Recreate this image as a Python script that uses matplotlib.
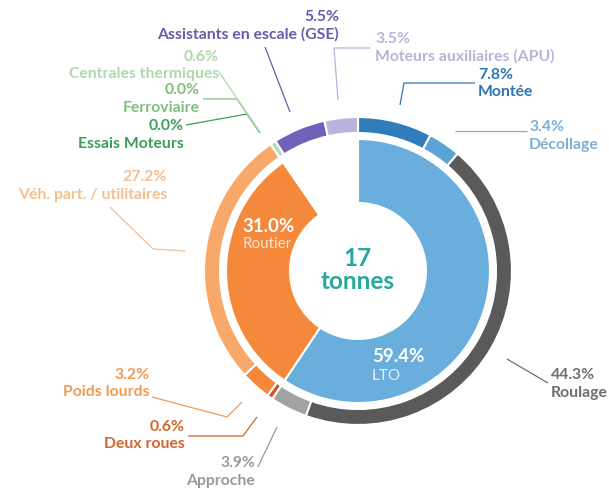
import matplotlib
matplotlib.use("Agg")
import matplotlib.pyplot as plt

plt.rcParams['font.family'] = ['Lato', 'DejaVu Sans']

W, H = 609, 490

# Anneau intérieur : grandes familles
inner_labels = ['LTO', 'Routier', 'Autres']
inner_values = [59.4, 31.0, 9.6]
inner_colors = ['#69aedd', '#f5893b', 'white']

# Anneau extérieur : sous-catégories (sens horaire depuis midi)
outer_labels = ['Montée', 'Décollage', 'Roulage', 'Approche',
                'Deux roues', 'Poids lourds', 'Véh. part. / utilitaires',
                'Essais Moteurs', 'Ferroviaire', 'Centrales thermiques',
                'Assistants en escale (GSE)', 'Moteurs auxiliaires (APU)']
outer_values = [7.8, 3.4, 44.3, 3.9, 0.6, 3.2, 27.2, 0.0, 0.0, 0.6, 5.5, 3.5]
outer_colors = ['#2f7dbd', '#5aa3d5', '#5a5a5a', '#a2a2a2',
                '#d4502a', '#f4873a', '#f8a869',
                '#3c9e5a', '#80c080', '#b4dcb0',
                '#7161b9', '#b9b4db']
label_colors = ['#2e75b6', '#7ab0d8', '#6e6e6e', '#9a9a9a',
                '#d2642a', '#f09a55', '#f5bf8e',
                '#3c9e5a', '#7cc07c', '#b0d8ae',
                '#6a5aab', '#b8b4d8']

total = '17\ntonnes'

fig = plt.figure(figsize=(W / 100, H / 100), dpi=100)
ax = fig.add_axes([0, 0, 1, 1])
ax.set_xlim(0, W)
ax.set_ylim(0, H)
ax.set_aspect('equal')
ax.axis('off')

cx, cy = 358, H - 271
R_out, w_out = 154, 16
R_in, w_in = 132, 64

ax.pie(outer_values, colors=outer_colors, radius=R_out, center=(cx, cy),
       startangle=90, counterclock=False,
       wedgeprops=dict(width=w_out, edgecolor='white', linewidth=1.5))
ax.pie(inner_values, colors=inner_colors, radius=R_in, center=(cx, cy),
       startangle=90, counterclock=False,
       wedgeprops=dict(width=w_in, edgecolor='white', linewidth=1.5))
ax.set_xlim(0, W)
ax.set_ylim(0, H)

ax.text(cx, H - 270, total, ha='center', va='center', color='#27a89c',
        fontsize=17.5, fontweight='bold', linespacing=1.0)

ax.text(242, H - 226, f'{inner_values[1]:.1f}%', color='white', fontsize=13.5,
        fontweight='bold', va='center')
ax.text(243, H - 244, inner_labels[1], color='#fde2cc', fontsize=11, va='center')
ax.text(372, H - 357, f'{inner_values[0]:.1f}%', color='white', fontsize=13.5,
        fontweight='bold', va='center')
ax.text(372, H - 376, inner_labels[0], color='#e4f1fb', fontsize=11, va='center')

# position des étiquettes (x, y du pourcentage, alignement) et lignes de rappel
layout = [
    (478, 75, 'left', [(400, 105), (404, 83), (475, 83)]),
    (529, 127, 'left', [(455, 131), (527, 131)]),
    (551, 375, 'left', [(507, 359), (548, 383)]),
    (255, 463, 'right', [(277, 427), (258, 467)]),
    (185, 427, 'right', [(257, 417), (243, 436), (188, 436)]),
    (150, 375, 'right', [(242, 402), (227, 417), (152, 397)]),
    (167, 177, 'right', [(185, 251), (153, 249), (110, 207)]),
    (184, 126, 'right', [(260, 133), (247, 114), (186, 125)]),
    (200, 90, 'right', [(260, 133), (237, 99), (203, 99)]),
    (219, 57, 'right', [(260, 132), (219, 72)]),
    (339, 17, 'right', [(290, 112), (265, 47)]),
    (375, 39, 'left', [(338, 100), (334, 48), (370, 48)]),
]

for lab, val, col, (x, y, ha, pts) in zip(outer_labels, outer_values,
                                           label_colors, layout):
    ax.text(x, H - y, f'{val:.1f}%', color=col, fontsize=11.3,
            fontweight='bold', ha=ha, va='center')
    ax.text(x, H - y - 17.5, lab, color=col, fontsize=11.3,
            fontweight='bold', ha=ha, va='center')
    ax.plot([p[0] for p in pts], [H - p[1] for p in pts], color=col,
            linewidth=0.9, solid_capstyle='butt')

fig.savefig('out.png', dpi=100)
